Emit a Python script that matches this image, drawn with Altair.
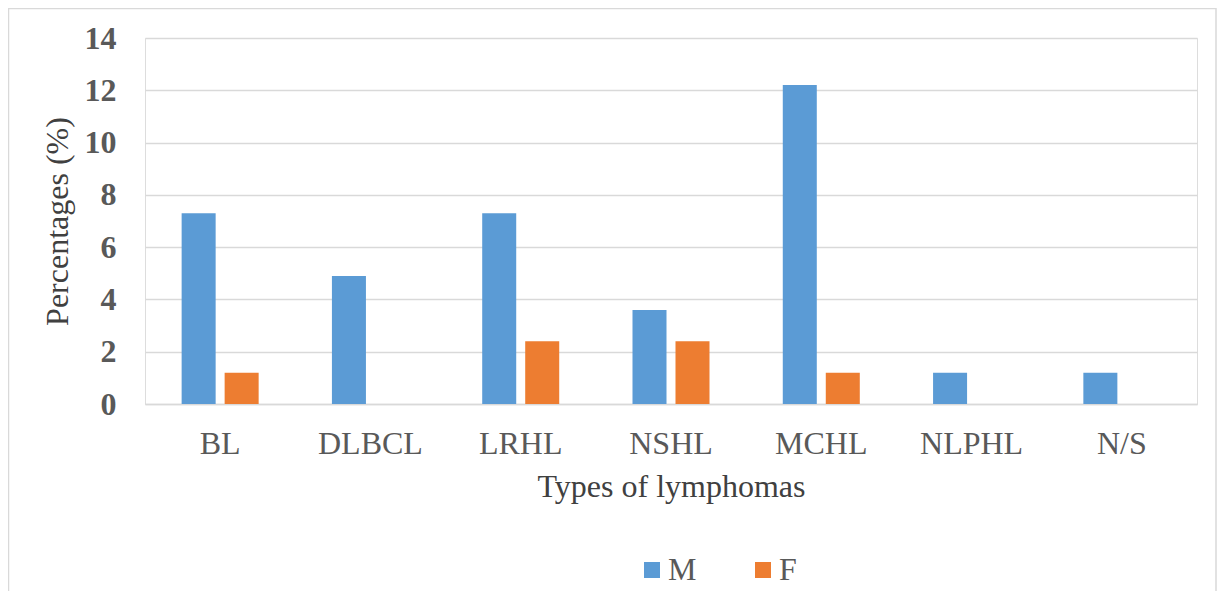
import altair as alt
import pandas as pd

categories = ["BL", "DLBCL", "LRHL", "NSHL", "MCHL", "NLPHL", "N/S"]
male = [7.3, 4.9, 7.3, 3.6, 12.2, 1.2, 1.2]
female = [1.2, 0, 2.4, 2.4, 1.2, 0, 0]
series = ["M", "F"]
colors = ["#5B9BD5", "#ED7D31"]
y_ticks = [0, 2, 4, 6, 8, 10, 12, 14]

rows = []
for c, m, f in zip(categories, male, female):
    rows.append({"type": c, "sex": "M", "pct": m})
    rows.append({"type": c, "sex": "F", "pct": f})
df = pd.DataFrame(rows)

FONT = "Liberation Serif"
TXT = "#595959"
GRID = "#D9D9D9"
W, H = 1052, 366

bars = alt.Chart(df).mark_bar().encode(
    x=alt.X(
        "type:N",
        sort=categories,
        scale=alt.Scale(paddingInner=0, paddingOuter=0),
        axis=alt.Axis(
            title="Types of lymphomas",
            labelAngle=0,
            ticks=False,
            tickSize=0,
            domainColor=GRID,
            domainWidth=1.5,
            labelPadding=24,
            titlePadding=12,
            grid=False,
            labelFont=FONT,
            labelFontSize=32,
            labelColor=TXT,
            titleFont=FONT,
            titleFontSize=32,
            titleFontWeight="normal",
            titleColor="#404040",
        ),
    ),
    xOffset=alt.XOffset(
        "sex:N",
        sort=series,
        scale=alt.Scale(domain=series, paddingInner=0.209, paddingOuter=0.852),
    ),
    y=alt.Y(
        "pct:Q",
        scale=alt.Scale(domain=[0, 14], nice=False),
        axis=alt.Axis(
            values=y_ticks,
            title="Percentages (%)",
            ticks=False,
            tickSize=0,
            domain=False,
            grid=True,
            gridColor=GRID,
            gridWidth=1.5,
            labelPadding=29,
            titlePadding=10,
            labelFont=FONT,
            labelFontSize=32,
            labelFontWeight="bold",
            labelColor=TXT,
            titleFont=FONT,
            titleFontSize=32,
            titleFontWeight="normal",
            titleColor="#404040",
        ),
    ),
    color=alt.Color(
        "sex:N",
        sort=series,
        scale=alt.Scale(domain=series, range=colors),
        legend=alt.Legend(
            title=None,
            orient="none",
            legendX=491,
            legendY=516,
            direction="horizontal",
            columns=2,
            columnPadding=50,
            symbolType="square",
            symbolSize=256,
            symbolStrokeWidth=0,
            labelOffset=0,
            labelFont=FONT,
            labelFontSize=32,
            labelColor=TXT,
        ),
    ),
)

border = alt.Chart(pd.DataFrame({"a": [0]})).mark_rect(
    fill=None, stroke=GRID, strokeWidth=1.5
).encode(
    x=alt.value(-136.5),
    x2=alt.value(1071),
    y=alt.value(-29.5),
    y2=alt.value(620),
)

chart = alt.layer(border, bars).properties(
    width=W,
    height=H,
    padding={"left": 137, "top": 30, "right": 20, "bottom": 187},
    autosize=alt.AutoSizeParams(type="none"),
).configure_view(stroke=None).configure(background="white")

chart.save("out.html", embed_options={"renderer": "svg", "actions": False})
